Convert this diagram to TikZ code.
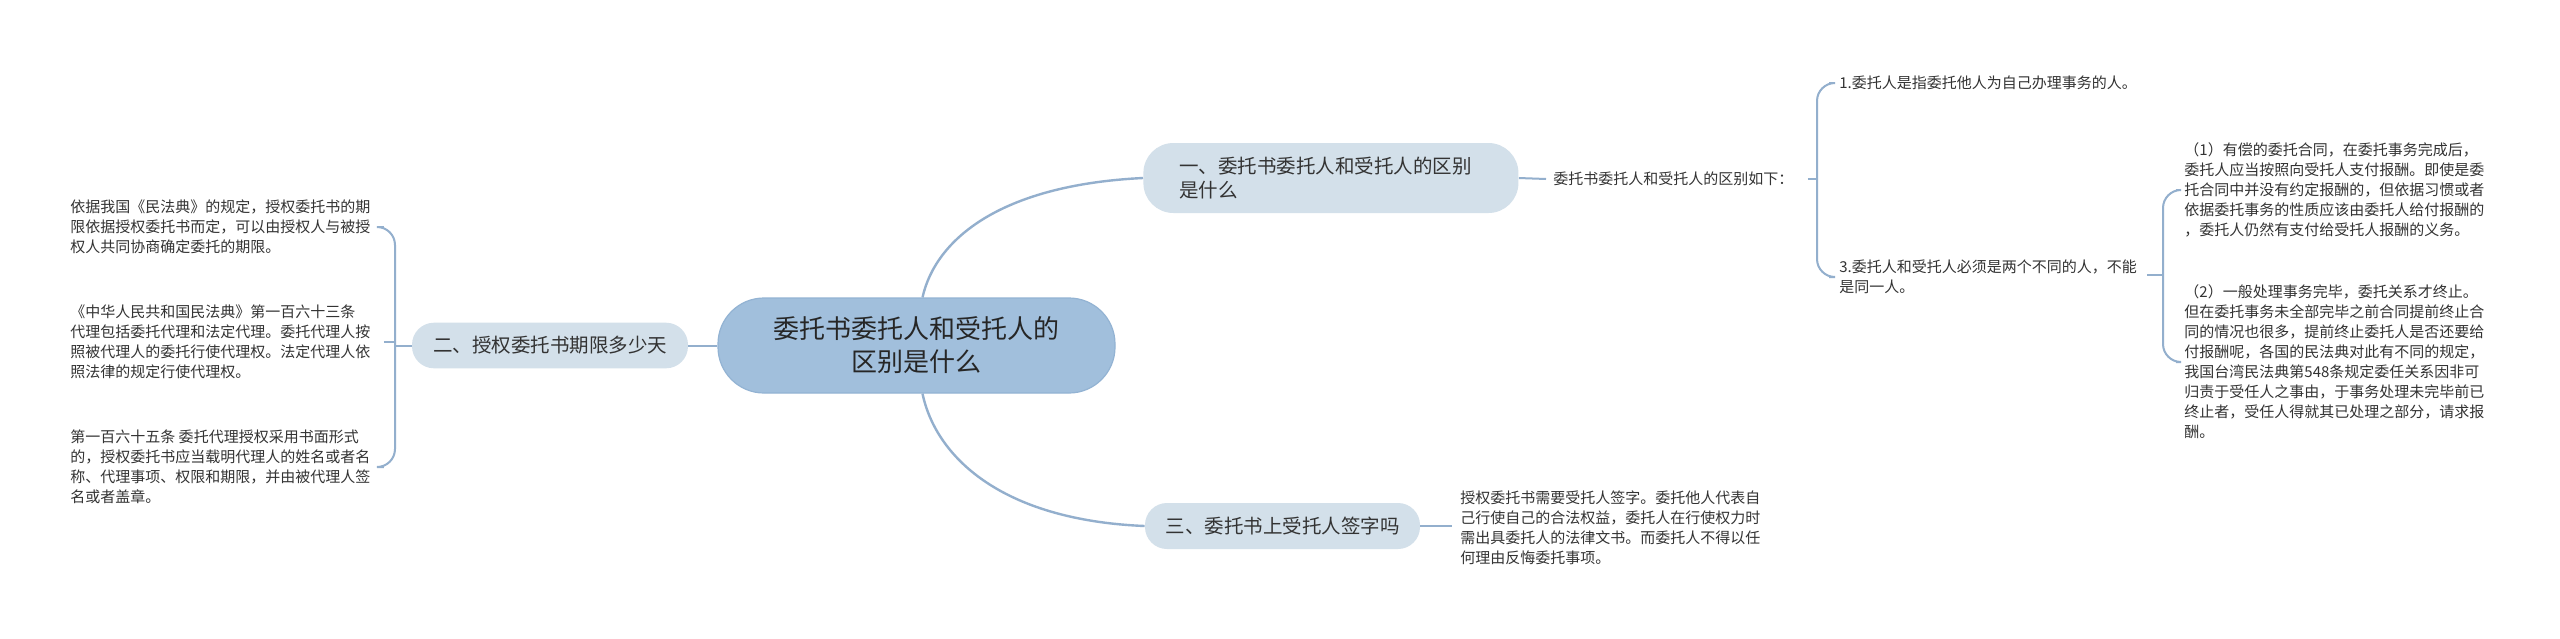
\documentclass[tikz,border=0pt]{standalone}
\usepackage{fontspec}
\setmainfont{Noto Sans CJK SC}
\usetikzlibrary{calc}
\definecolor{linec}{HTML}{93AFCD}
\definecolor{rootf}{HTML}{A1BFDC}
\definecolor{rootd}{HTML}{93B3D3}
\definecolor{brf}{HTML}{D3E0EA}
\definecolor{txt}{HTML}{333333}
\newcommand{\bodyfont}{\fontsize{7.5pt}{10pt}\selectfont}
\newcommand{\brfont}{\fontsize{9.75pt}{12pt}\selectfont}
\newcommand{\rootfont}{\fontsize{13pt}{16.5pt}\selectfont}
\tikzset{
  conn/.style={draw=linec, line width=1pt},
  curvec/.style={draw=linec, line width=1.2pt},
  leaf/.style={anchor=west, inner sep=0pt, align=left, font=\bodyfont, text=txt},
  rootbox/.style={fill=rootf, draw=rootd, line width=0.6pt, rounded corners=23pt, minimum width=198.5pt, minimum height=47.5pt, align=center, font=\rootfont, text=black!85, inner sep=0pt},
  brbox/.style={fill=brf, draw=none, rounded corners=11pt, minimum height=22.8pt, align=center, font=\brfont, text=txt, inner sep=0pt}
}
\begin{document}
\begin{tikzpicture}[x=0.5pt, y=-0.5pt]
\useasboundingbox[fill=white] (0,0) rectangle (2560,638);
% root
\node[rootbox] (root) at (916.5,345.5) {委托书委托人和受托人的\\区别是什么};
% branches
\node[brbox, minimum width=138pt] (b2) at (550,345.5) {二、授权委托书期限多少天};
\node[brbox, rounded corners=15pt, minimum height=35pt, text width=151.5pt, inner xsep=18pt, align=left, anchor=west] (b1) at (1143,178) {一、委托书委托人和受托人的区别\\是什么};
\node[brbox, minimum width=137.5pt, minimum height=23pt] (b3) at (1282.5,526) {三、委托书上受托人签字吗};
% left leaves
\node[leaf] (l1) at (70,227) {依据我国《民法典》的规定，授权委托书的期\\限依据授权委托书而定，可以由授权人与被授\\权人共同协商确定委托的期限。};
\node[leaf] (l2) at (70,342) {《中华人民共和国民法典》第一百六十三条\\代理包括委托代理和法定代理。委托代理人按\\照被代理人的委托行使代理权。法定代理人依\\照法律的规定行使代理权。};
\node[leaf] (l3) at (70,467) {第一百六十五条 委托代理授权采用书面形式\\的，授权委托书应当载明代理人的姓名或者名\\称、代理事项、权限和期限，并由被代理人签\\名或者盖章。};
% right side
\node[leaf] (rx) at (1553,179) {委托书委托人和受托人的区别如下：};
\node[leaf] (i1) at (1839,83) {1.委托人是指委托他人为自己办理事务的人。};
\node[leaf] (i3) at (1839,277) {3.委托人和受托人必须是两个不同的人，不能\\是同一人。};
\node[leaf] (p1) at (2184,190) {（1）有偿的委托合同，在委托事务完成后，\\委托人应当按照向受托人支付报酬。即使是委\\托合同中并没有约定报酬的，但依据习惯或者\\依据委托事务的性质应该由委托人给付报酬的\\，委托人仍然有支付给受托人报酬的义务。};
\node[leaf] (p2) at (2184,362) {（2）一般处理事务完毕，委托关系才终止。\\但在委托事务未全部完毕之前合同提前终止合\\同的情况也很多，提前终止委托人是否还要给\\付报酬呢，各国的民法典对此有不同的规定，\\我国台湾民法典第548条规定委任关系因非可\\归责于受任人之事由，于事务处理未完毕前已\\终止者，受任人得就其已处理之部分，请求报\\酬。};
\node[leaf] (t3) at (1460,528) {授权委托书需要受托人签字。委托他人代表自\\己行使自己的合法权益，委托人在行使权力时\\需出具委托人的法律文书。而委托人不得以任\\何理由反悔委托事项。};
% bracket coordinates
\coordinate (brL) at (395,345);
\coordinate (brR1) at (1817,178);
\coordinate (brR2) at (2163,275);
\coordinate (i3e) at ($(i3.east)+(10,0)$);
\coordinate (t3w) at ($(t3.west)+(-8,0)$);
% root connectors
\draw[conn] (root.west) -- (b2.east);
\draw[curvec] ($(root.north)+(6,0)$) .. controls +(13,-58) and +(-143,7) .. (b1.west);
\draw[curvec] ($(root.south)+(6,0)$) .. controls +(13,62) and +(-145,-6) .. (b3.west);
% left bracket
\draw[conn] (b2.west) -- (brL|-b2.west);
\draw[conn, rounded corners=9] ($(l1.east)+(13,0)$) -- (brL|-l1.east) -- (brL|-l3.east) -- ($(l3.east)+(13,0)$);
\draw[conn] ($(l2.east)+(13,0)$) -- (brL|-l2.east);
% right side
\draw[conn] (b1.east) -- ($(rx.west)+(-7,0)$);
\draw[conn] ($(rx.east)+(14,0)$) -- (brR1|-rx.east);
\draw[conn, rounded corners=9] ($(i1.west)+(-10,0)$) -- (brR1|-i1.west) -- (brR1|-i3.west) -- ($(i3.west)+(-10,0)$);
\draw[conn] (i3e|-brR2) -- (brR2);
\draw[conn, rounded corners=9] ($(p1.west)+(-8,0)$) -- (brR2|-p1.west) -- (brR2|-p2.west) -- ($(p2.west)+(-8,0)$);
\draw[conn] (b3.east) -- (t3w|-b3.east);
\end{tikzpicture}
\end{document}
